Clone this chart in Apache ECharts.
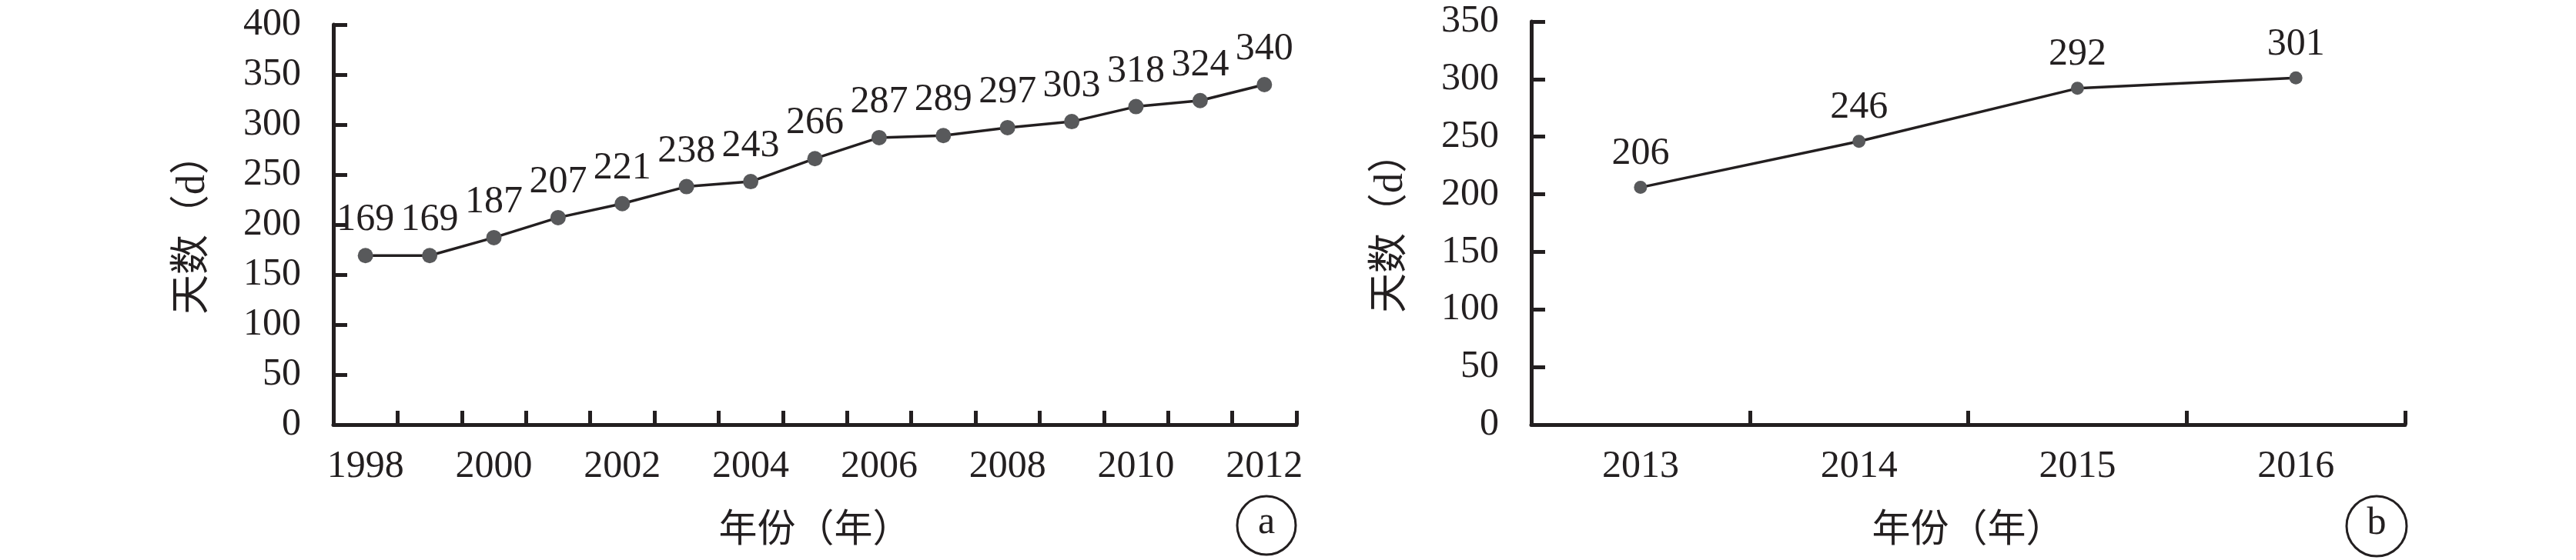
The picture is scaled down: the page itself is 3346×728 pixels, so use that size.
<!DOCTYPE html>
<html>
<head>
<meta charset="utf-8">
<script src="https://cdn.jsdelivr.net/npm/echarts@6/dist/echarts.min.js"></script>
<style>
html,body{margin:0;padding:0;background:#fff;}
#chart{width:3346px;height:728px;}
</style>
</head>
<body>
<div id="chart"></div>
<script>
// Panel (a)
const yearsA = ['1998','1999','2000','2001','2002','2003','2004','2005','2006','2007','2008','2009','2010','2011','2012'];
const daysA = [169,169,187,207,221,238,243,266,287,289,297,303,318,324,340];
// Panel (b)
const yearsB = ['2013','2014','2015','2016'];
const daysB = [206,246,292,301];

const yTicksA = {min:0, max:400, interval:50};
const yTicksB = {min:0, max:350, interval:50};

const yName = '天数（d）';
const xName = '年份（年）';

const INK = '#231f20';
const FONT = '"Liberation Serif", "Noto Sans CJK SC", serif';

function xAxis(gridIndex, data) {
  return {
    type: 'category', gridIndex, data, boundaryGap: true,
    name: xName, nameLocation: 'middle', nameGap: 114,
    nameTextStyle: {fontSize: 50, color: INK, fontFamily: FONT},
    axisLine: {lineStyle: {color: INK, width: 5}},
    axisTick: {show: true, inside: true, length: 18, interval: 0, alignWithLabel: false, lineStyle: {color: INK, width: 5}},
    axisLabel: {fontSize: 50, color: INK, fontFamily: FONT, margin: 30, interval: data.length > 6 ? 1 : 0},
    splitLine: {show: false}
  };
}
function yAxis(gridIndex, t) {
  return {
    type: 'value', gridIndex, min: t.min, max: t.max, interval: t.interval,
    name: yName, nameLocation: 'middle', nameGap: 156, nameRotate: 90,
    nameTextStyle: {fontSize: 52, color: INK, fontFamily: FONT},
    axisLine: {show: true, lineStyle: {color: INK, width: 5}},
    axisTick: {show: true, inside: true, length: 18, lineStyle: {color: INK, width: 5}},
    axisLabel: {fontSize: 50, color: INK, fontFamily: FONT, margin: 42},
    splitLine: {show: false}
  };
}
function series(idx, data, sym, dist) {
  return {
    type: 'line', xAxisIndex: idx, yAxisIndex: idx, data,
    symbol: 'circle', symbolSize: sym,
    itemStyle: {color: '#58595b'},
    lineStyle: {color: INK, width: 3.5},
    label: {show: true, position: 'top', distance: dist, fontSize: 50, color: INK, fontFamily: FONT},
    animation: false
  };
}

const chart = echarts.init(document.getElementById('chart'));
chart.setOption({
  animation: false,
  backgroundColor: '#fff',
  grid: [
    {left: 433, right: 1662, top: 32, bottom: 176},
    {left: 1989, right: 222, top: 28, bottom: 176}
  ],
  xAxis: [xAxis(0, yearsA), xAxis(1, yearsB)],
  yAxis: [yAxis(0, yTicksA), yAxis(1, yTicksB)],
  series: [series(0, daysA, 20, 11), series(1, daysB, 17, 10)],
  graphic: [
    {type: 'circle', shape: {cx: 1645, cy: 683, r: 38}, style: {fill: 'none', stroke: INK, lineWidth: 3}},
    {type: 'text', x: 1645, y: 680, style: {text: 'a', fontSize: 50, fontFamily: FONT, fill: INK, align: 'center', verticalAlign: 'middle'}},
    {type: 'circle', shape: {cx: 3087, cy: 684, r: 39}, style: {fill: 'none', stroke: INK, lineWidth: 3}},
    {type: 'text', x: 3087, y: 681, style: {text: 'b', fontSize: 50, fontFamily: FONT, fill: INK, align: 'center', verticalAlign: 'middle'}}
  ]
});
</script>
</body>
</html>
